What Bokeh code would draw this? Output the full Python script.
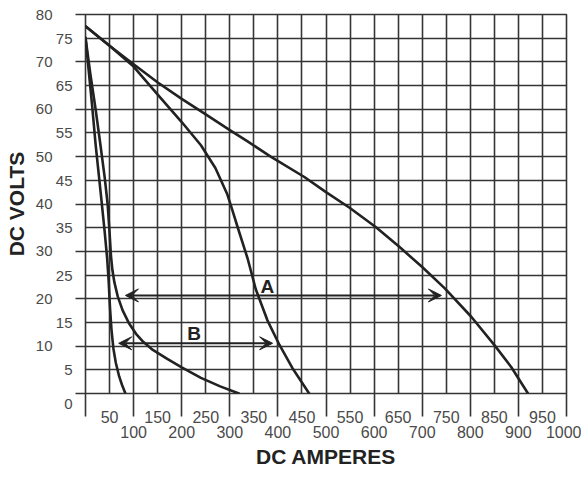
from bokeh.plotting import figure
from bokeh.models import FixedTicker, LinearAxis, Arrow, VeeHead, Range1d
from bokeh.embed import file_html
from bokeh.resources import INLINE
from bokeh.core.properties import value

# ---- data ----
curve1_amps = [0, 14, 21, 33, 40, 45, 48, 51, 54, 58, 63, 70, 76, 83]
curve1_volts = [75.1, 60.5, 52.6, 41, 34, 28.5, 24, 18, 13.5, 9.5, 6.5, 3.6, 1.8, 0]

curve2_amps = [0, 10, 21, 31, 40, 46, 50, 53, 56, 60, 67, 77, 90, 105, 120, 140, 170, 200, 240, 280, 319]
curve2_volts = [75.1, 67.5, 60, 52.5, 45.5, 40, 34, 29, 26, 23.5, 20.5, 17.6, 14.9, 12.6, 10.9, 9.2, 7.3, 5.5, 3.3, 1.5, 0]

curve3_amps = [0, 50, 100, 151, 200, 240, 270, 295, 305, 316, 337, 354, 378, 403, 430, 465]
curve3_volts = [77.5, 73.4, 69.0, 63.0, 57.3, 52.4, 47.6, 42.0, 38.8, 35.2, 28.5, 22.0, 15.5, 10.3, 5.4, 0]

curve4_amps = [0, 50, 100, 151, 200, 250, 300, 337, 385, 455, 500, 549, 604, 653, 700, 747, 802, 851, 885, 920]
curve4_volts = [77.5, 73.4, 69.5, 65.6, 62.2, 58.9, 55.6, 53.2, 50.0, 45.7, 42.5, 39.2, 35.1, 30.9, 26.7, 22.2, 16.2, 10.1, 5.6, 0]

arrow_a = [83, 740, 20.7]   # x_start, x_end, volts
arrow_b = [69, 389, 10.6]
mark_x = [378, 226]
mark_y = [22.6, 12.6]
mark_text = ["A", "B"]

x_ticks_upper = list(range(50, 1000, 100))     # 50,150,...,950
x_ticks_lower = list(range(100, 1001, 100))    # 100,...,1000
x_long_ticks = list(range(0, 1001, 100))
y_ticks_inner = [0] + list(range(5, 80, 10))   # 0,5,15,...,75
y_ticks_outer = list(range(10, 81, 10))        # 10,...,80
y_long_ticks = list(range(0, 81, 10))
x_grid = list(range(0, 1001, 50))
y_grid = list(range(0, 81, 5))

TICK_FONT = "Liberation Sans"
TITLE_FONT = "Liberation Sans"
INK = "#222222"
GRID = "#353535"
LBL = "#4a4a4a"

p = figure(width=581, height=480, x_range=Range1d(0, 1000), y_range=Range1d(0, 80),
           output_backend="svg", toolbar_location=None,
           x_axis_location=None, y_axis_location=None,
           min_border_left=85, min_border_right=15, min_border_top=14, min_border_bottom=87)

p.xgrid.ticker = FixedTicker(ticks=x_grid)
p.ygrid.ticker = FixedTicker(ticks=y_grid)
for g in (p.xgrid, p.ygrid):
    g.grid_line_color = GRID
    g.grid_line_width = 1.6
p.outline_line_color = GRID
p.outline_line_width = 1.6
p.background_fill_color = "white"
p.border_fill_color = "white"


def style_axis(ax, standoff, size):
    ax.major_tick_out = 0
    ax.major_tick_in = 0
    ax.minor_tick_in = 0
    ax.axis_line_color = None
    ax.major_label_standoff = standoff
    ax.major_label_text_font = TICK_FONT
    ax.major_label_text_font_size = size
    ax.major_label_text_color = LBL
    ax.minor_tick_line_color = GRID
    ax.minor_tick_line_width = 1.6


xa1 = LinearAxis(ticker=FixedTicker(ticks=x_ticks_upper, minor_ticks=x_long_ticks))
style_axis(xa1, -6, "16px")
xa1.minor_tick_out = 23
p.add_layout(xa1, "below")

xa2 = LinearAxis(ticker=FixedTicker(ticks=x_ticks_lower, minor_ticks=[]))
style_axis(xa2, 0, "16px")
xa2.minor_tick_out = 0
xa2.axis_label = "DC AMPERES"
xa2.axis_label_standoff = 4
xa2.axis_label_text_font = TITLE_FONT
xa2.axis_label_text_font_size = "21px"
xa2.axis_label_text_font_style = "bold"
xa2.axis_label_text_color = INK
p.add_layout(xa2, "below")

ya1 = LinearAxis(ticker=FixedTicker(ticks=y_ticks_inner, minor_ticks=y_long_ticks))
style_axis(ya1, 3, "15px")
ya1.minor_tick_out = 10
ya1.major_label_overrides = {0: "\n0"}
p.add_layout(ya1, "left")

ya2 = LinearAxis(ticker=FixedTicker(ticks=y_ticks_outer, minor_ticks=[]))
style_axis(ya2, 0, "15px")
ya2.minor_tick_out = 0
ya2.axis_label = "DC VOLTS"
ya2.axis_label_standoff = 5
ya2.axis_label_text_font = TITLE_FONT
ya2.axis_label_text_font_size = "21px"
ya2.axis_label_text_font_style = "bold"
ya2.axis_label_text_color = INK
p.add_layout(ya2, "left")

for xs, ys in ((curve1_amps, curve1_volts), (curve2_amps, curve2_volts),
               (curve3_amps, curve3_volts), (curve4_amps, curve4_volts)):
    p.line(xs, ys, line_color=INK, line_width=2.6, line_join="round", line_cap="round")

for a in (arrow_a, arrow_b):
    p.add_layout(Arrow(x_start=a[0], y_start=a[2], x_end=a[1], y_end=a[2],
                       start=VeeHead(size=13, fill_color=INK, line_color=INK, line_width=1),
                       end=VeeHead(size=13, fill_color=INK, line_color=INK, line_width=1),
                       line_color=INK, line_width=2))

p.text(x=mark_x, y=mark_y, text=mark_text, text_font=value("Liberation Sans"),
       text_font_style="bold", text_font_size="19px", text_align="center",
       text_baseline="middle", text_color=INK)

open("out.html", "w").write(file_html(p, INLINE))
